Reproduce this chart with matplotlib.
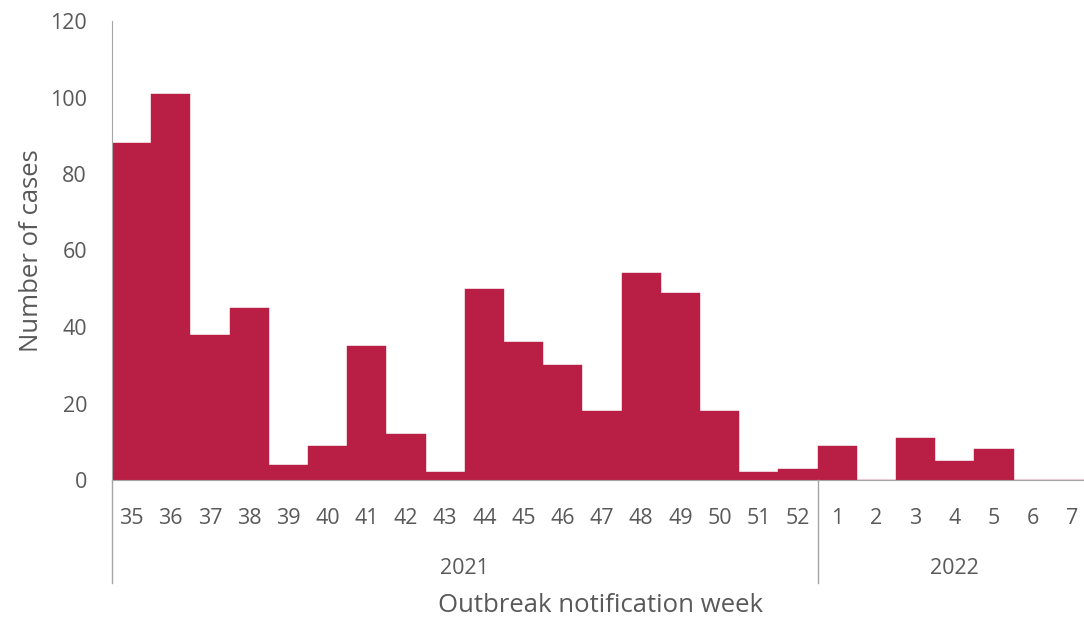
import numpy as np
import matplotlib.pyplot as plt
import matplotlib.transforms as mtransforms

# Недели и число случаев
weeks = ['35', '36', '37', '38', '39', '40', '41', '42', '43', '44', '45', '46',
         '47', '48', '49', '50', '51', '52', '1', '2', '3', '4', '5', '6', '7']
cases = [88, 101, 38, 45, 4, 9, 35, 12, 2, 50, 36, 30,
         18, 54, 49, 18, 2, 3, 9, 0, 11, 5, 8, 0, 0]
years = ['2021', '2022']
weeks_per_year = [18, 7]

plt.rcParams['font.family'] = ['Open Sans', 'DejaVu Sans']
grey = '#595959'
line_grey = '#a6a6a6'

fig = plt.figure(figsize=(10.84, 6.17), dpi=100)
# область графика чуть выходит за правый край, как в оригинале
ax = fig.add_axes([112 / 1084, (617 - 480) / 617, 980 / 1084, 459 / 617])

x = np.arange(len(weeks))
ax.bar(x, cases, width=1.0, color='#b91f44', edgecolor='#b91f44', linewidth=0.3)

ax.set_xlim(-0.5, len(weeks) - 0.5)
ax.set_ylim(0, 120)
ax.set_yticks(np.arange(0, 121, 20))
ax.tick_params(axis='y', length=0, pad=18, labelsize=15.5, labelcolor=grey)
ax.set_xticks(x)
ax.set_xticklabels(weeks)
ax.tick_params(axis='x', length=0, pad=20, labelsize=15.5, labelcolor=grey)

for side in ['top', 'right']:
    ax.spines[side].set_visible(False)
ax.spines['left'].set_color(line_grey)
ax.spines['bottom'].set_color(line_grey)

# Второй уровень подписей: годы
trans = mtransforms.blended_transform_factory(ax.transData, ax.transAxes)
y_low = -103 / 459
ax.plot([-0.5, -0.5], [0, y_low], color=line_grey, lw=1, transform=trans, clip_on=False)
start = -0.5
for year, n in zip(years, weeks_per_year):
    end = start + n
    if end < len(weeks) - 0.5:
        ax.plot([end, end], [0, y_low], color=line_grey, lw=1, transform=trans, clip_on=False)
    ax.text((start + end) / 2, -88 / 459, year, transform=trans,
            ha='center', va='center', fontsize=15.5, color=grey)
    start = end

ax.set_ylabel('Number of cases', fontsize=18.5, color=grey)
ax.yaxis.set_label_coords(-68 / 980, 0.5)
fig.text(600 / 1084, 1 - 606 / 617, 'Outbreak notification week',
         ha='center', va='center', fontsize=18.5, color=grey)

plt.savefig('out.png', dpi=100)
